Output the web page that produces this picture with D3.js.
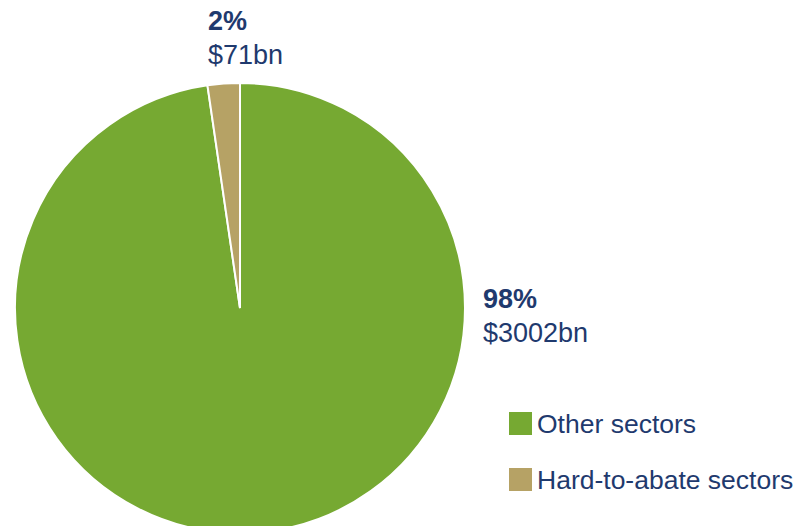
<!DOCTYPE html>
<html><head><meta charset="utf-8">
<script src="https://cdn.jsdelivr.net/npm/d3@7"></script>
<style>body{margin:0;background:#fff;}svg{display:block;font-family:"Liberation Sans",Arial,sans-serif;}</style>
</head><body>
<svg id="c" width="799" height="526"></svg>
<script>
const categories = ["Other sectors", "Hard-to-abate sectors"];
const values = [3002, 71];
const pctLabels = ["98%", "2%"];
const valueLabels = ["$3002bn", "$71bn"];
const colors = ["#76a932", "#b6a265"];

const svg = d3.select("#c");
const cx = 240, cy = 308, r = 225;
const pie = d3.pie().sort(null).value(d => d)(values);
const arc = d3.arc().innerRadius(0).outerRadius(r);
const g = svg.append("g").attr("transform", `translate(${cx},${cy})`);
g.selectAll("path").data(pie).join("path")
  .attr("d", arc).attr("fill", (d,i) => colors[i])
  .attr("stroke", "#fff").attr("stroke-width", 2);

const textColor = "#1f3a6e";
const labelPos = [[483, 308], [208, 30]];
labelPos.forEach((p, i) => {
  const t = svg.append("text").attr("x", p[0]).attr("y", p[1]).attr("fill", textColor).style("font-size", "27px");
  t.append("tspan").attr("font-weight", "bold").text(pctLabels[i]);
  t.append("tspan").attr("x", p[0]).attr("dy", 34).text(valueLabels[i]);
});

const legend = svg.append("g");
categories.forEach((c, i) => {
  const y = 412 + i * 56;
  legend.append("rect").attr("x", 509).attr("y", y).attr("width", 23).attr("height", 23).attr("fill", colors[i]);
  legend.append("text").attr("x", 537).attr("y", y + 21).attr("fill", textColor).style("font-size", "26.5px").text(c);
});
</script>
</body></html>
